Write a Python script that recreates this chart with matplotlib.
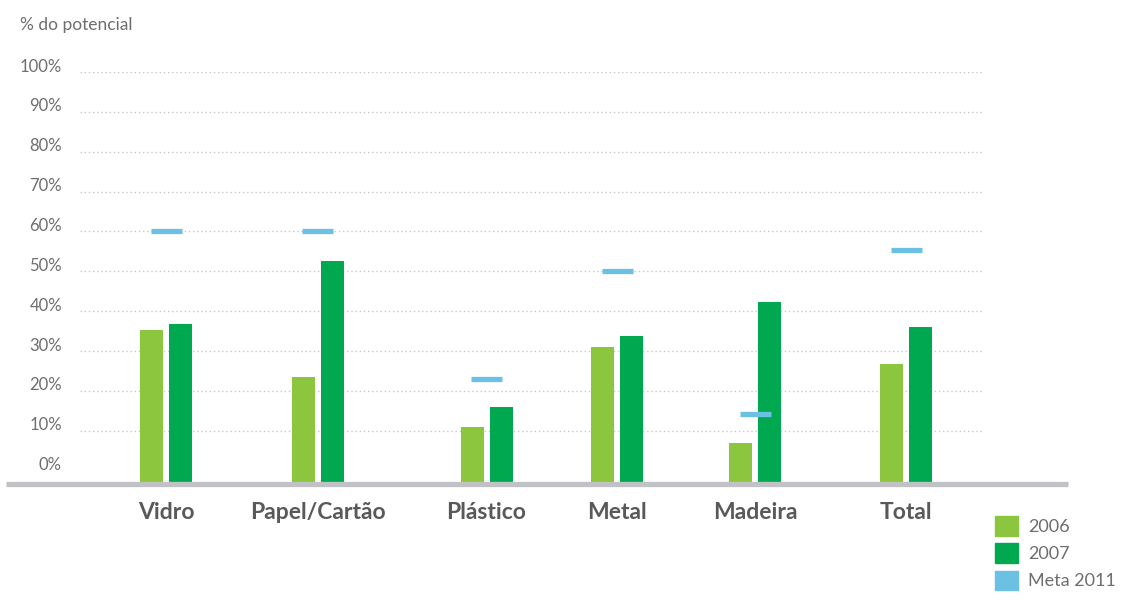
import matplotlib
matplotlib.use('Agg')
import matplotlib.pyplot as plt
import matplotlib.transforms as mtransforms
from matplotlib.patches import Patch

# data (% do potencial)
categories = ['Vidro', 'Papel/Cartão', 'Plástico', 'Metal', 'Madeira', 'Total']
values_2006 = [35.2, 23.4, 10.9, 30.9, 7.0, 26.7]
values_2007 = [36.7, 52.7, 15.9, 33.9, 42.2, 36.0]
meta_2011 = [60.0, 60.0, 22.9, 50.0, 14.1, 55.4]
y_ticks = [0, 10, 20, 30, 40, 50, 60, 70, 80, 90, 100]
y_tick_labels = [f'{t}%' for t in y_ticks]
series_labels = ['2006', '2007', 'Meta 2011']

# layout (category centres are not evenly spaced in the original)
cat_x = [86, 237.5, 406.5, 537, 675, 826]
bar_w = 23
bar_off = 14.5
meta_w = 31
y_floor = -3.1

c2006 = '#8cc63f'
c2007 = '#00a94f'
cmeta = '#6bc0e3'
grey_txt = '#6d6e70'
dark_txt = '#58595b'

plt.rcParams['font.family'] = ['Lato', 'DejaVu Sans']

fig = plt.figure(figsize=(11.29, 6.08), dpi=100)
W, H = 1129, 608
ax = fig.add_axes([80 / W, (H - 483) / H, 903 / W, (483 - 72) / H])
ax.set_xlim(0, 903)
ax.set_ylim(y_floor, 100)

# dotted gridlines (no line at 0)
ax.hlines(y_ticks[1:], 0, 903, colors='#c8c8c8', linestyles=(0, (1, 2)),
          linewidth=1, zorder=1)

x06 = [x - bar_off for x in cat_x]
x07 = [x + bar_off for x in cat_x]
ax.bar(x06, [v - y_floor for v in values_2006], bottom=y_floor, width=bar_w,
       color=c2006, zorder=2)
ax.bar(x07, [v - y_floor for v in values_2007], bottom=y_floor, width=bar_w,
       color=c2007, zorder=2)
ax.hlines(meta_2011, [x - meta_w / 2 for x in cat_x], [x + meta_w / 2 for x in cat_x],
          colors=cmeta, linewidth=3.8, zorder=3)

# thick grey baseline running past the plot area
fig.add_artist(plt.Line2D([6 / W, 1068 / W], [(H - 483.5) / H] * 2,
                          color='#c1c2c6', linewidth=3.8, solid_capstyle='butt',
                          zorder=4))

for s in ax.spines.values():
    s.set_visible(False)

ax.set_yticks(y_ticks)
ax.set_yticklabels(y_tick_labels, fontsize=12, color=grey_txt)
ax.tick_params(axis='y', length=0, pad=13)
offset = mtransforms.ScaledTranslation(0, 7 / 100, fig.dpi_scale_trans)
for lbl in ax.get_yticklabels():
    lbl.set_transform(lbl.get_transform() + offset)

ax.set_xticks(cat_x)
ax.set_xticklabels(categories, fontsize=16.5, fontweight='bold', color=dark_txt)
ax.tick_params(axis='x', length=0, pad=13.5)

fig.text(20 / W, 1 - 25 / H, '% do potencial', fontsize=12.5, color=grey_txt,
         va='center', ha='left')

handles = [Patch(color=c2006), Patch(color=c2007), Patch(color=cmeta)]
fig.legend(handles, series_labels, loc='upper left',
           bbox_to_anchor=(995 / W, 1 - 516 / H), frameon=False, fontsize=13,
           handlelength=1.3, handleheight=1.3, handletextpad=0.55,
           labelspacing=0.42, borderpad=0, borderaxespad=0, labelcolor=grey_txt)

fig.savefig('out.png', dpi=100)
